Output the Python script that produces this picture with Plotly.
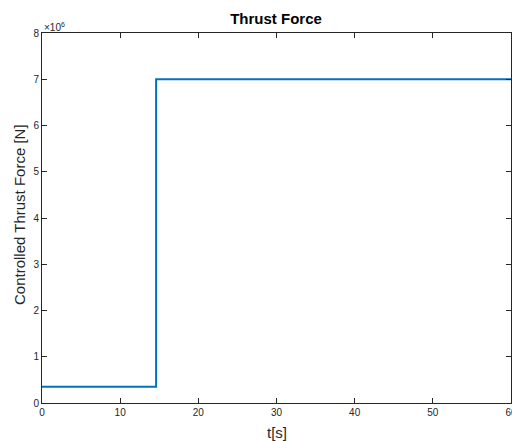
import plotly.graph_objects as go

t_points = [0, 14.6, 60]
force_points = [0.35e6, 7.0e6, 7.0e6]
x_ticks = [0, 10, 20, 30, 40, 50, 60]
y_ticks = [0, 1e6, 2e6, 3e6, 4e6, 5e6, 6e6, 7e6, 8e6]
y_tick_text = ["0", "1", "2", "3", "4", "5", "6", "7", "8"]

axcol = "#262626"
font = "Liberation Sans, Arial, sans-serif"

fig = go.Figure()
fig.add_trace(go.Scatter(x=t_points, y=force_points, mode="lines",
                         line=dict(color="#0072BD", width=2, shape="hv"),
                         showlegend=False))

fig.update_layout(
    width=512, height=441,
    margin=dict(l=42, r=1, t=33, b=38, autoexpand=False),
    paper_bgcolor="white", plot_bgcolor="white",
    font=dict(family=font, size=10, color=axcol),
    title=dict(text="<b>Thrust Force</b>", x=276 / 512, xanchor="center",
               y=1 - 18.5 / 441, yanchor="middle",
               font=dict(family=font, size=15, color="black")),
    xaxis=dict(range=[0, 60], tickvals=x_ticks, ticks="inside", ticklen=5, tickcolor=axcol,
               showline=True, linecolor=axcol, linewidth=1, mirror="ticks", showgrid=False,
               zeroline=False, ticklabeloverflow="allow", automargin=False),
    yaxis=dict(range=[0, 8e6], tickvals=y_ticks, ticktext=y_tick_text, ticks="inside", ticklen=5,
               tickcolor=axcol, showline=True, linecolor=axcol, linewidth=1, mirror="ticks",
               showgrid=False, zeroline=False, automargin=False),
    annotations=[
        dict(text="×10<sup>6</sup>", xref="paper", yref="paper", x=0, y=1,
             xanchor="left", yanchor="bottom", showarrow=False, xshift=0, yshift=-2,
             font=dict(family=font, size=10, color=axcol)),
        dict(text="t[s]", xref="paper", yref="paper", x=0.5, y=0,
             xanchor="center", yanchor="middle", showarrow=False, yshift=-29,
             font=dict(family=font, size=15, color=axcol)),
        dict(text="Controlled Thrust Force [N]", xref="paper", yref="paper", x=0, y=0.5,
             xanchor="center", yanchor="middle", showarrow=False, textangle=-90,
             xshift=-23, yshift=3,
             font=dict(family=font, size=15, color=axcol)),
    ],
)

fig.write_html("out.html")
